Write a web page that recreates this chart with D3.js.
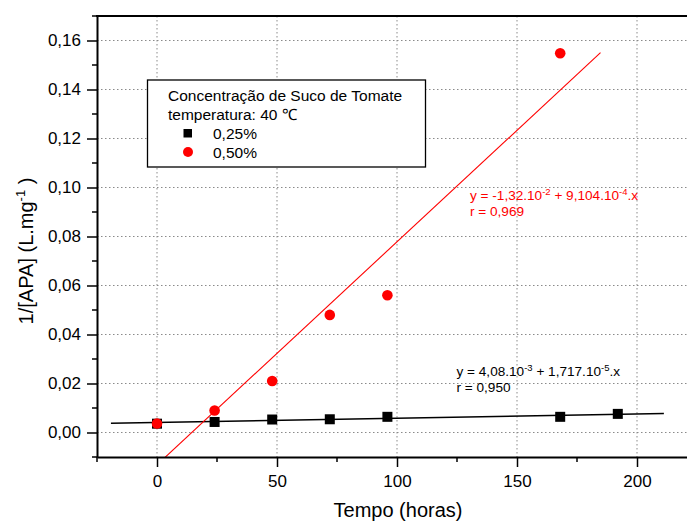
<!DOCTYPE html>
<html>
<head>
<meta charset="utf-8">
<script src="https://cdn.jsdelivr.net/npm/d3@7"></script>
<style>
  html, body { margin: 0; padding: 0; background: #fff; }
  svg { display: block; font-family: "Liberation Sans", Arial, sans-serif; }
</style>
</head>
<body>
<div id="chart"></div>
<script>
// dados
const tempo025 = [0, 24, 48, 72, 96, 168, 192];
const conc025 = [0.0036, 0.0043, 0.0053, 0.0054, 0.0064, 0.0064, 0.0076];
const tempo050 = [0, 24, 48, 72, 96, 168];
const conc050 = [0.0037, 0.0090, 0.0210, 0.0480, 0.0560, 0.1548];

// ajustes lineares (coeficientes impressos no gráfico)
const fit025 = { a: 4.08e-3, b: 1.717e-5 };
const fit050 = { a: -1.32e-2, b: 9.104e-4 };

const xTicks = [0, 50, 100, 150, 200];
const yTicks = [0, 0.02, 0.04, 0.06, 0.08, 0.10, 0.12, 0.14, 0.16];
const legendLabels = ["0,25%", "0,50%"];

const width = 687, height = 525;
const pLeft = 97, pTop = 16, pBottom = 457, pRight = 697;

const svg = d3.select("#chart").append("svg")
    .attr("width", width)
    .attr("height", height);

const x = d3.scaleLinear().domain([-25, 225]).range([pLeft, pRight]);
const y = d3.scaleLinear().domain([-0.01, 0.17]).range([pBottom, pTop]);

const fmt = v => d3.format(".2f")(v).replace(".", ",");

// grade pontilhada
const grid = svg.append("g");
xTicks.forEach(v => {
    grid.append("line")
        .attr("x1", x(v)).attr("x2", x(v))
        .attr("y1", pTop).attr("y2", pBottom)
        .attr("stroke", "#8a8a8a").attr("stroke-width", 1)
        .attr("stroke-dasharray", "1.5,2.5");
});
yTicks.forEach(v => {
    grid.append("line")
        .attr("x1", pLeft).attr("x2", pRight)
        .attr("y1", y(v)).attr("y2", y(v))
        .attr("stroke", "#8a8a8a").attr("stroke-width", 1)
        .attr("stroke-dasharray", "1.5,2.5");
});

// área de recorte
svg.append("clipPath").attr("id", "clip")
    .append("rect")
    .attr("x", pLeft).attr("y", pTop)
    .attr("width", pRight - pLeft).attr("height", pBottom - pTop);

const plot = svg.append("g").attr("clip-path", "url(#clip)");

// retas de regressão (10% além do intervalo dos dados)
const fitLine = (t, fit) => {
    const [t0, t1] = d3.extent(t);
    const ext = (t1 - t0) * 0.1;
    return [t0 - ext, t1 + ext].map(v => [v, fit.a + fit.b * v]);
};
const line = d3.line().x(d => x(d[0])).y(d => y(d[1]));

plot.append("path")
    .attr("d", line(fitLine(tempo025, fit025)))
    .attr("fill", "none").attr("stroke", "#000").attr("stroke-width", 1.5);

plot.append("path")
    .attr("d", line(fitLine(tempo050, fit050)))
    .attr("fill", "none").attr("stroke", "#ff0000").attr("stroke-width", 1.1);

// pontos
const sq = 10;
plot.selectAll(".sq").data(tempo025.map((t, i) => [t, conc025[i]]))
    .enter().append("rect")
    .attr("x", d => x(d[0]) - sq / 2)
    .attr("y", d => y(d[1]) - sq / 2)
    .attr("width", sq).attr("height", sq)
    .attr("fill", "#000");

plot.selectAll(".ci").data(tempo050.map((t, i) => [t, conc050[i]]))
    .enter().append("circle")
    .attr("cx", d => x(d[0]))
    .attr("cy", d => y(d[1]))
    .attr("r", 5.3)
    .attr("fill", "#ff0000");

// eixos
const xAxis = d3.axisBottom(x)
    .tickValues(xTicks).tickSize(10).tickSizeOuter(0).tickPadding(8)
    .tickFormat(d3.format("d"));
const gx = svg.append("g").attr("transform", `translate(0,${pBottom})`).call(xAxis);
gx.append("g").selectAll("line").data([-25, 25, 75, 125, 175, 225])
    .enter().append("line")
    .attr("x1", d => x(d)).attr("x2", d => x(d))
    .attr("y1", 0).attr("y2", 5).attr("stroke", "#000").attr("stroke-width", 1.5);

const yAxis = d3.axisLeft(y)
    .tickValues(yTicks).tickSize(10).tickSizeOuter(0).tickPadding(6)
    .tickFormat(fmt);
const gy = svg.append("g").attr("transform", `translate(${pLeft},0)`).call(yAxis);
gy.append("g").selectAll("line").data([-0.01, 0.01, 0.03, 0.05, 0.07, 0.09, 0.11, 0.13, 0.15, 0.17])
    .enter().append("line")
    .attr("x1", 0).attr("x2", -5)
    .attr("y1", d => y(d)).attr("y2", d => y(d))
    .attr("stroke", "#000").attr("stroke-width", 1.5);

[gx, gy].forEach(g => {
    g.select(".domain").attr("stroke", "#000").attr("stroke-width", 2);
    g.selectAll(".tick line").attr("stroke", "#000").attr("stroke-width", 1.5);
    g.selectAll(".tick text")
        .attr("fill", "#000")
        .attr("font-size", 17)
        .attr("font-family", "Liberation Sans, Arial, sans-serif");
});

// moldura superior
svg.append("line")
    .attr("x1", pLeft - 1).attr("x2", pRight)
    .attr("y1", pTop).attr("y2", pTop)
    .attr("stroke", "#000").attr("stroke-width", 2);

// títulos dos eixos
svg.append("text")
    .attr("x", 398).attr("y", 517)
    .attr("text-anchor", "middle")
    .attr("font-size", 20)
    .text("Tempo (horas)");

const yt = svg.append("text")
    .attr("transform", "translate(33,251) rotate(-90)")
    .attr("text-anchor", "middle")
    .attr("font-size", 20);
yt.append("tspan").text("1/[APA] (L.mg");
yt.append("tspan").attr("dy", -8).attr("font-size", 13).text("-1");
yt.append("tspan").attr("dy", 8).text(" )");

// legenda
const lg = svg.append("g");
lg.append("rect")
    .attr("x", 147.5).attr("y", 80)
    .attr("width", 278).attr("height", 87)
    .attr("fill", "#fff").attr("stroke", "#000").attr("stroke-width", 1.3);
lg.append("text").attr("x", 168).attr("y", 101).attr("font-size", 15.5)
    .text("Concentração de Suco de Tomate");
lg.append("text").attr("x", 168).attr("y", 120).attr("font-size", 15.5)
    .text("temperatura: 40 ℃");
lg.append("rect").attr("x", 183.5).attr("y", 129).attr("width", 8.5).attr("height", 8.5).attr("fill", "#000");
lg.append("circle").attr("cx", 188).attr("cy", 152).attr("r", 5).attr("fill", "#ff0000");
legendLabels.forEach((lab, i) => {
    lg.append("text").attr("x", 213).attr("y", 139 + i * 18.5).attr("font-size", 15.5).text(lab);
});

// equações
const eq = (px, py, color, parts, r) => {
    const t = svg.append("text").attr("x", px).attr("y", py)
        .attr("font-size", 13.6).attr("fill", color);
    let back = 0;
    parts.forEach(p => {
        if (typeof p === "object") {
            t.append("tspan").attr("dy", -5).attr("font-size", 9.5).text(p.exp);
            back = 5;
        } else {
            t.append("tspan").attr("dy", back).text(p);
            back = 0;
        }
    });
    svg.append("text").attr("x", px).attr("y", py + 15.5)
        .attr("font-size", 13.6).attr("fill", color).text(r);
};

eq(470, 200, "#ff0000",
    ["y = -1,32.10", { exp: "-2" }, " + 9,104.10", { exp: "-4" }, ".x"], "r = 0,969");
eq(456.5, 376, "#000",
    ["y = 4,08.10", { exp: "-3" }, " + 1,717.10", { exp: "-5" }, ".x"], "r = 0,950");
</script>
</body>
</html>
